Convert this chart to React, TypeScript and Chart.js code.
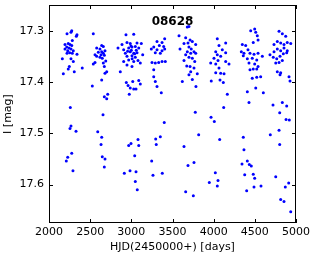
import { useEffect, useRef } from "react";
import { Chart, registerables } from "chart.js";

Chart.register(...registerables);

const TITLE = "08628";
const X_LABEL = "HJD(2450000+) [days]";
const Y_LABEL = "I [mag]";
const X_TICKS = [2000, 2500, 3000, 3500, 4000, 4500, 5000];
const Y_TICKS = [17.3, 17.4, 17.5, 17.6];

const HJD = [
  // season 1
  2276, 2267, 2219, 2340, 2332, 2283, 2194, 2234, 2255, 2276, 2215, 2243, 2194, 2267, 2227, 2295, 2251, 2219, 2283, 2340,
  2162, 2267, 2295, 2247, 2234, 2404, 2307, 2174, 2259, 2255, 2267, 2328, 2210, 2227, 2276, 2291,
  // season 2
  2538, 2640, 2660, 2579, 2619, 2680, 2640, 2599, 2660, 2559, 2632, 2672, 2579, 2619, 2647, 2689, 2559, 2538, 2660, 2672,
  2701, 2680, 2640, 2526, 2713, 2672, 2701, 2656, 2592, 2640, 2632, 2647, 2680, 2672,
  // season 3
  2935, 3029, 2838, 2887, 2947, 2987, 3069, 3121, 2907, 2968, 3008, 3048, 3090, 2927, 2987, 3029, 3069, 3138, 2947, 3008,
  3048, 2968, 2907, 3029, 3081, 2947, 3008, 2866, 3109, 3000, 3040, 2955, 3010, 3060, 2995,
  2939, 3017, 3090, 2960, 3109, 2987, 3029, 3057, 2975, 2968, 2996, 3081, 3090, 3041, 2915, 2984, 3057, 3048, 3072,
  // season 4
  3312, 3373, 3405, 3272, 3340, 3393, 3243, 3312, 3373, 3291, 3352, 3405, 3251, 3291, 3332, 3373, 3413, 3272, 3272, 3291,
  3312, 3364, 3400, 3352, 3296, 3303, 3247, 3263, 3376,
  // season 5
  3680, 3700, 3579, 3660, 3713, 3688, 3741, 3640, 3782, 3591, 3700, 3728, 3680, 3761, 3660, 3721, 3782, 3700, 3741, 3640,
  3770, 3673, 3713, 3761, 3721, 3801, 3700, 3619, 3741, 3785, 3777, 3818, 3640, 3688, 3761, 3660, 3753,
  // season 6
  4044, 4065, 4146, 4025, 4105, 4146, 4044, 4085, 4004, 4053, 3964, 4025, 4146, 4186, 4065, 4025, 4085, 4126, 3971, 4077,
  4117, 4166, 4122, 3968, 4008, 4073, 4020, 4053, 3947, 4044,
  // season 7
  4450, 4498, 4511, 4530, 4348, 4389, 4481, 4539, 4336, 4368, 4417, 4441, 4490, 4539, 4591, 4360, 4409, 4469, 4523, 4429,
  4498, 4539, 4441, 4481, 4523, 4469, 4523, 4571, 4409, 4511, 4603, 4429, 4360, 4368, 4409, 4344, 4433, 4457, 4377, 4481,
  4498, 4490, 4575, 4401,
  // season 8
  4794, 4834, 4875, 4733, 4773, 4814, 4854, 4894, 4936, 4684, 4733, 4773, 4814, 4854, 4894, 4724, 4766, 4806, 4846, 4887,
  4754, 4794, 4834, 4773, 4814, 4806, 4915, 4927, 4721, 4834, 4887, 4802, 4879, 4919, 4794, 4688, 4802, 4754, 4911, 4870,
  4814, 4854, 4936,
];

const IMAG = [
  // season 1
  17.300, 17.303, 17.306, 17.308, 17.311, 17.319, 17.327, 17.325, 17.327, 17.329, 17.332, 17.334, 17.336, 17.336, 17.339, 17.339, 17.343, 17.344, 17.344, 17.346,
  17.355, 17.355, 17.360, 17.370, 17.375, 17.373, 17.380, 17.384, 17.450, 17.491, 17.486, 17.496, 17.554, 17.547, 17.539, 17.573,
  // season 2
  17.306, 17.329, 17.331, 17.334, 17.336, 17.339, 17.341, 17.342, 17.344, 17.347, 17.347, 17.348, 17.350, 17.352, 17.354, 17.359, 17.362, 17.365, 17.363, 17.370,
  17.380, 17.383, 17.396, 17.408, 17.424, 17.429, 17.433, 17.464, 17.497, 17.508, 17.522, 17.546, 17.550, 17.566,
  // season 3
  17.308, 17.307, 17.334, 17.327, 17.323, 17.325, 17.324, 17.325, 17.337, 17.334, 17.332, 17.331, 17.334, 17.344, 17.341, 17.344, 17.343, 17.347, 17.350, 17.349,
  17.352, 17.357, 17.360, 17.360, 17.358, 17.367, 17.370, 17.380, 17.363, 17.338, 17.345, 17.340, 17.355, 17.338, 17.330,
  17.401, 17.399, 17.397, 17.407, 17.404, 17.412, 17.414, 17.414, 17.424, 17.524, 17.520, 17.512, 17.524, 17.544, 17.578, 17.573, 17.575, 17.594, 17.610,
  // season 4
  17.321, 17.323, 17.316, 17.332, 17.329, 17.331, 17.336, 17.337, 17.339, 17.343, 17.344, 17.336, 17.362, 17.363, 17.362, 17.360, 17.360, 17.376, 17.390, 17.399,
  17.409, 17.421, 17.479, 17.507, 17.511, 17.522, 17.554, 17.582, 17.578,
  // season 5
  17.293, 17.292, 17.310, 17.314, 17.318, 17.324, 17.321, 17.325, 17.327, 17.336, 17.332, 17.336, 17.341, 17.341, 17.347, 17.344, 17.344, 17.352, 17.354, 17.358,
  17.360, 17.369, 17.370, 17.373, 17.380, 17.384, 17.386, 17.399, 17.395, 17.409, 17.459, 17.503, 17.526, 17.563, 17.557, 17.614, 17.622,
  // season 6
  17.316, 17.329, 17.324, 17.341, 17.337, 17.343, 17.347, 17.350, 17.354, 17.358, 17.363, 17.365, 17.360, 17.365, 17.373, 17.382, 17.383, 17.384, 17.398, 17.396,
  17.401, 17.424, 17.450, 17.469, 17.477, 17.512, 17.577, 17.592, 17.596, 17.603,
  // season 7
  17.300, 17.297, 17.303, 17.310, 17.327, 17.329, 17.323, 17.318, 17.341, 17.344, 17.337, 17.344, 17.346, 17.344, 17.350, 17.349, 17.355, 17.354, 17.357, 17.363,
  17.365, 17.370, 17.376, 17.375, 17.375, 17.393, 17.391, 17.390, 17.419, 17.412, 17.421, 17.440, 17.508, 17.532, 17.554, 17.560, 17.561, 17.564, 17.581, 17.580,
  17.588, 17.605, 17.603, 17.612,
  // season 8
  17.301, 17.306, 17.311, 17.327, 17.321, 17.324, 17.327, 17.323, 17.325, 17.347, 17.341, 17.336, 17.339, 17.334, 17.339, 17.352, 17.355, 17.350, 17.345, 17.343,
  17.363, 17.362, 17.358, 17.380, 17.382, 17.386, 17.390, 17.398, 17.445, 17.440, 17.447, 17.460, 17.473, 17.474, 17.494, 17.503, 17.522, 17.585, 17.597, 17.605,
  17.629, 17.633, 17.653,
];

const FONT = "'DejaVu Sans', sans-serif";

const framePlugin = {
  id: "frameAndTitle",
  afterDraw(chart: any) {
    const { ctx, chartArea: a, scales } = chart;
    ctx.save();
    ctx.strokeStyle = "#000";
    ctx.lineWidth = 1;
    ctx.strokeRect(a.left + 0.5, a.top + 0.5, a.right - a.left - 1, a.bottom - a.top - 1);
    const tl = 4;
    ctx.beginPath();
    for (const v of X_TICKS) {
      const px = Math.round(scales.x.getPixelForValue(v)) + 0.5;
      ctx.moveTo(px, a.bottom);
      ctx.lineTo(px, a.bottom - tl);
      ctx.moveTo(px, a.top);
      ctx.lineTo(px, a.top + tl);
    }
    for (const v of Y_TICKS) {
      const py = Math.round(scales.y.getPixelForValue(v)) + 0.5;
      ctx.moveTo(a.left, py);
      ctx.lineTo(a.left + tl, py);
      ctx.moveTo(a.right, py);
      ctx.lineTo(a.right - tl, py);
    }
    ctx.stroke();
    ctx.fillStyle = "#000";
    ctx.font = `bold 12px ${FONT}`;
    ctx.textAlign = "center";
    ctx.textBaseline = "middle";
    ctx.fillText(TITLE, (a.left + a.right) / 2, a.top + 17);
    ctx.restore();
  },
};

export default function App() {
  const ref = useRef<HTMLCanvasElement | null>(null);

  useEffect(() => {
    document.body.style.margin = "0";
    const canvas = ref.current;
    if (!canvas) return;
    Chart.defaults.color = "#000";
    Chart.defaults.font.family = FONT;
    Chart.defaults.font.size = 11;
    const points = HJD.map((x, i) => ({ x, y: IMAG[i] }));
    const chart = new Chart(canvas, {
      type: "scatter",
      data: {
        datasets: [
          {
            data: points,
            backgroundColor: "#0000ff",
            borderColor: "#0000ff",
            borderWidth: 0,
            pointRadius: 1.5,
          },
        ],
      },
      options: {
        animation: false,
        responsive: false,
        events: [],
        layout: { padding: { top: 5, right: 20, left: 0, bottom: 0 } },
        plugins: { legend: { display: false }, tooltip: { enabled: false } },
        scales: {
          x: {
            type: "linear",
            min: 2000,
            max: 5000,
            grid: { display: false, drawTicks: false },
            border: { display: false },
            afterBuildTicks: (s: any) => {
              s.ticks = X_TICKS.map((v) => ({ value: v }));
            },
            afterFit: (s: any) => {
              s.height = 36;
            },
            ticks: { padding: 3, maxRotation: 0, callback: (v: any) => String(v) },
            title: { display: true, text: X_LABEL, padding: { top: 0, bottom: 5 }, font: { size: 11 } },
          },
          y: {
            type: "linear",
            reverse: true,
            min: 17.25,
            max: 17.675,
            grid: { display: false, drawTicks: true, tickLength: 5 },
            border: { display: false },
            afterBuildTicks: (s: any) => {
              s.ticks = Y_TICKS.map((v) => ({ value: v }));
            },
            afterFit: (s: any) => {
              s.width = 49;
            },
            ticks: {
              padding: 0,
              font: { size: 11, lineHeight: 0.9 },
              callback: (v: any) => Number(v).toFixed(1),
            },
            title: { display: true, text: Y_LABEL, padding: { top: 2, bottom: 0 }, font: { size: 11 } },
          },
        },
      },
      plugins: [framePlugin],
    });
    return () => chart.destroy();
  }, []);

  return (
    <div style={{ width: 316, height: 259 }}>
      <canvas ref={ref} width={316} height={259} />
    </div>
  );
}
